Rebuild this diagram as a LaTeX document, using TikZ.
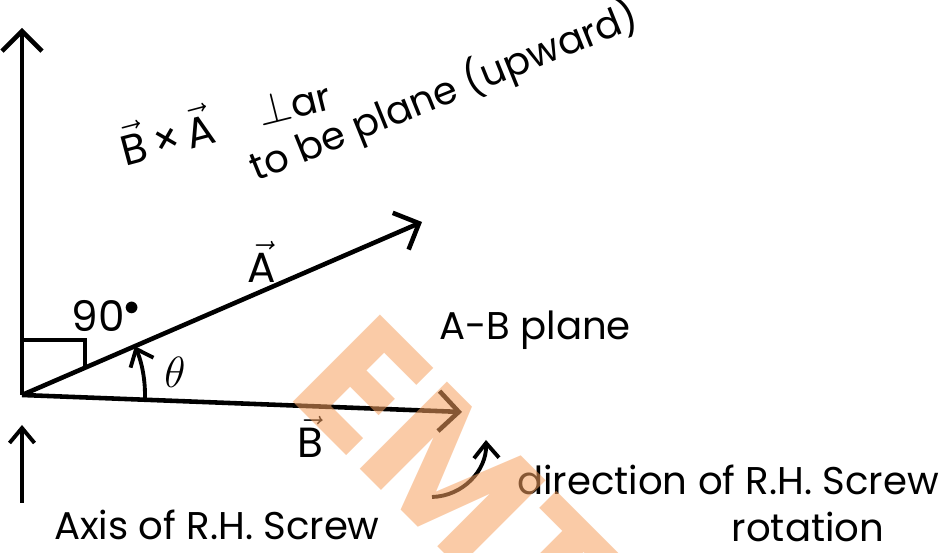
\documentclass[tikz,border=0pt]{standalone}
\usepackage{fontspec}
\setmainfont{Poppins}
\usetikzlibrary{arrows.meta}
\definecolor{wmorange}{RGB}{245,160,95}
\newcommand{\hvec}[1]{$\vec{\mbox{#1}}$}

\begin{document}
\begin{tikzpicture}[
    x=0.02cm, y=-0.02cm,
    vec/.style={-{Straight Barb[length=4mm,width=8mm]}, line width=2.6pt},
    small vec/.style={-{Straight Barb[length=3mm,width=5mm]}, line width=2.2pt},
    lbl/.style={font=\fontsize{22}{26}\selectfont, inner sep=0pt},
    sym/.style={font=\fontsize{24}{28}\selectfont, inner sep=0pt}
]
\useasboundingbox (0,0) rectangle (951,553);

% axes and vectors
\coordinate (O) at (22,395);
\coordinate (ztop) at (22,28);
\coordinate (atip) at (422,222);
\coordinate (btip) at (462,412);
\draw[vec] (O) -- (ztop);
\draw[vec] (O) -- (atip);
\draw[vec] (O) -- (btip);

% right angle and theta
\draw[line width=2.2pt] (22,340) -- (85,340) -- (85,368);
\draw[small vec] (O) ++(2.2:123) arc[start angle=2.2, end angle=-23.4, radius=123];

\node[sym] (ninety) at (106,316) {90$^{\bullet}$};
\node[sym] (theta) at (175,372) {$\theta$};
\node[sym] (avec) at (262,262) {\hvec{A}};
\node[sym] (bvec) at (310,437) {\hvec{B}};

% cross product note
\node[sym, rotate=15] (cross) at (166,134) {\hvec{B}\,×\,\hvec{A}};
\node[lbl, rotate=14] (perp) at (294,103) {{\fontsize{28}{30}\selectfont$\perp$}ar};
\node[lbl, rotate=22] (upward) at (444,92) {to be plane (upward)};

\node[lbl] (plane) at (535,330) {A-B plane};

% screw axis
\coordinate (axbot) at (22,503);
\coordinate (axtop) at (22,425);
\draw[small vec] (axbot) -- (axtop);
\node[lbl] (axis) at (217,525) {Axis of R.H. Screw};

% screw rotation
\coordinate (rs) at (432,497);
\coordinate (re) at (486,440);
\draw[small vec] (rs) to[bend right=45] (re);
\node[lbl] (dir) at (728,480) {direction of R.H. Screw};
\node[lbl] (rot) at (808,527) {rotation};

% watermark
\node[font=\fontsize{100}{100}\selectfont\bfseries, text=wmorange, opacity=0.55,
      rotate=-45] (wm) at (456,478) {EMT};
\end{tikzpicture}
\end{document}
